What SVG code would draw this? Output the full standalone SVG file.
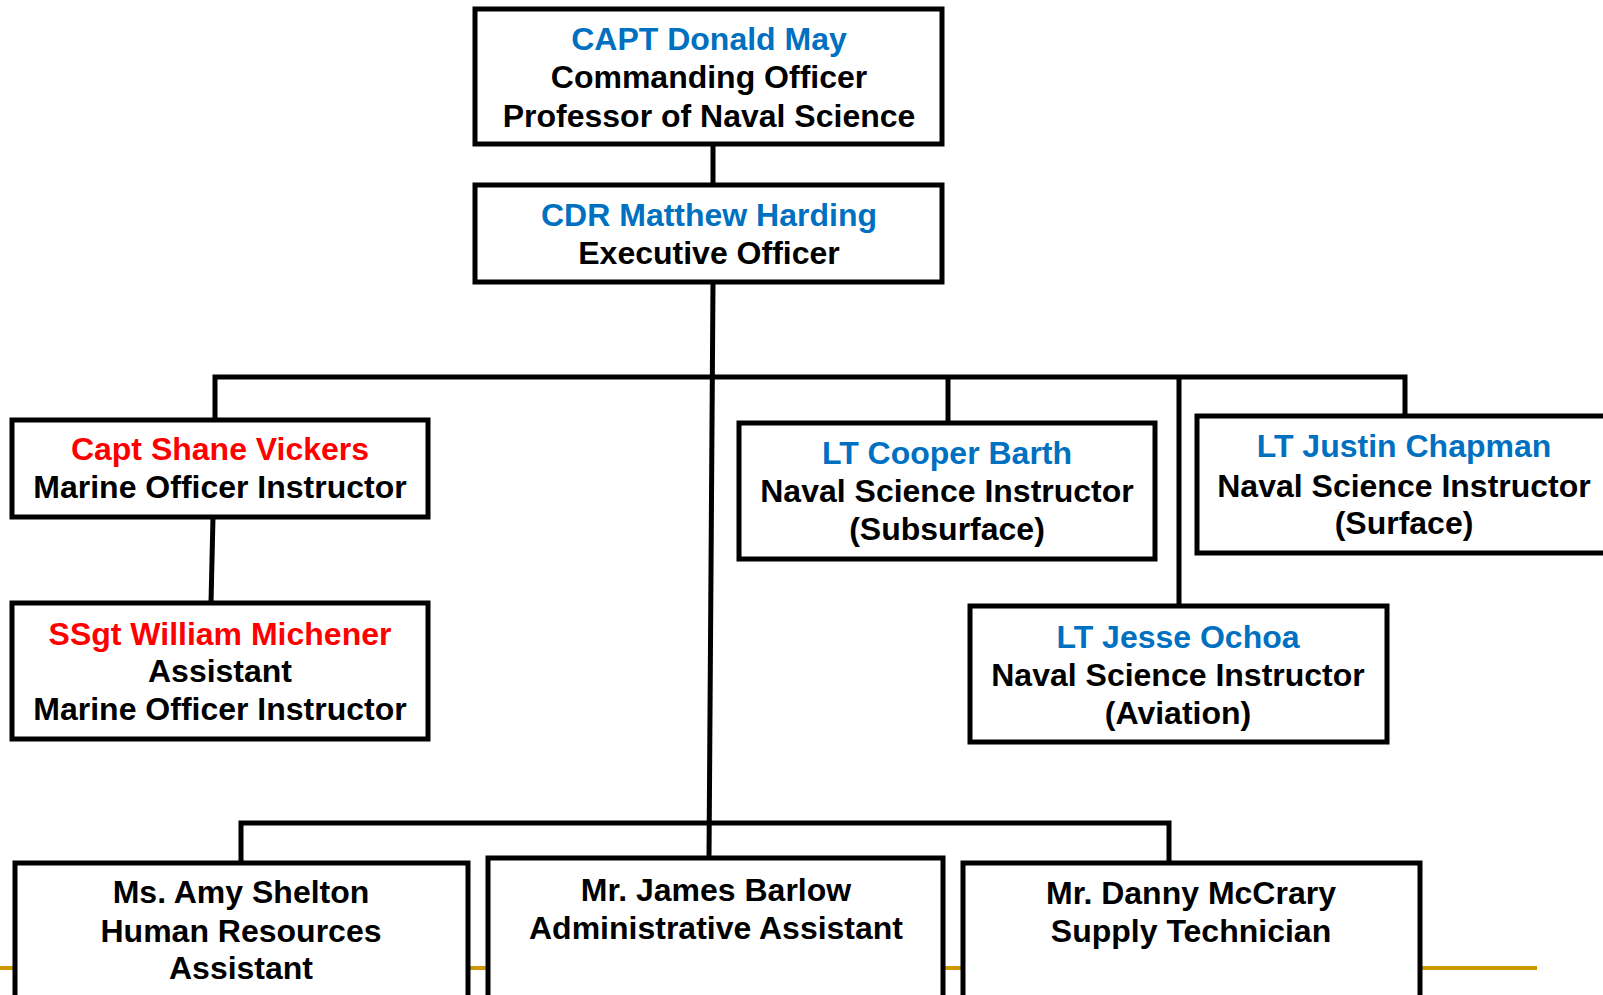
<svg xmlns="http://www.w3.org/2000/svg" width="1603" height="995" viewBox="0 0 1603 995">
<style>
.box{fill:#fff;stroke:#000;stroke-width:5}
.con{fill:none;stroke:#000;stroke-width:5}
text{font-family:"Liberation Sans",Arial,sans-serif;font-weight:bold;font-size:32px;text-anchor:middle;fill:#000}
.b{fill:#0070C0}
.r{fill:#FF0000}
</style>
<rect width="1603" height="995" fill="#fff"/>
<line x1="0" y1="968" x2="1537" y2="968" stroke="#CC9900" stroke-width="4"/>
<g id="connectors">
<line class="con" x1="713" y1="144" x2="713" y2="185"/>
<polyline class="con" points="713,282 709,858"/>
<polyline class="con" points="215,420 215,377 1405,377 1405,416"/>
<line class="con" x1="948" y1="377" x2="948" y2="423"/>
<line class="con" x1="1179" y1="377" x2="1179" y2="606"/>
<line class="con" x1="213" y1="517" x2="211" y2="603"/>
<polyline class="con" points="241,863 241,823 1169,823 1169,863"/>
</g>
<g id="n-may">
<rect class="box" x="475" y="9" width="467" height="135"/>
<text x="709" y="50" class="b">CAPT Donald May</text>
<text x="709" y="88">Commanding Officer</text>
<text x="709" y="127">Professor of Naval Science</text>
</g>
<g id="n-harding">
<rect class="box" x="475" y="185" width="467" height="97"/>
<text x="709" y="226" class="b">CDR Matthew Harding</text>
<text x="709" y="264">Executive Officer</text>
</g>
<g id="n-vickers">
<rect class="box" x="12" y="420" width="416" height="97"/>
<text x="220" y="460" class="r">Capt Shane Vickers</text>
<text x="220" y="498">Marine Officer Instructor</text>
</g>
<g id="n-michener">
<rect class="box" x="12" y="603" width="416" height="136"/>
<text x="220" y="645" class="r">SSgt William Michener</text>
<text x="220" y="682">Assistant</text>
<text x="220" y="720">Marine Officer Instructor</text>
</g>
<g id="n-barth">
<rect class="box" x="739" y="423" width="416" height="136"/>
<text x="947" y="464" class="b">LT Cooper Barth</text>
<text x="947" y="502">Naval Science Instructor</text>
<text x="947" y="540">(Subsurface)</text>
</g>
<g id="n-chapman">
<rect class="box" x="1197" y="416" width="420" height="137"/>
<text x="1404" y="457" class="b">LT Justin Chapman</text>
<text x="1404" y="497">Naval Science Instructor</text>
<text x="1404" y="534">(Surface)</text>
</g>
<g id="n-ochoa">
<rect class="box" x="970" y="606" width="417" height="136"/>
<text x="1178" y="648" class="b">LT Jesse Ochoa</text>
<text x="1178" y="686">Naval Science Instructor</text>
<text x="1178" y="724">(Aviation)</text>
</g>
<g id="n-shelton">
<rect class="box" x="15" y="863" width="453" height="145"/>
<text x="241" y="903">Ms. Amy Shelton</text>
<text x="241" y="942">Human Resources</text>
<text x="241" y="979">Assistant</text>
</g>
<g id="n-barlow">
<rect class="box" x="488" y="858" width="455" height="150"/>
<text x="716" y="901">Mr. James Barlow</text>
<text x="716" y="939">Administrative Assistant</text>
</g>
<g id="n-mccrary">
<rect class="box" x="963" y="863" width="457" height="145"/>
<text x="1191" y="904">Mr. Danny McCrary</text>
<text x="1191" y="942">Supply Technician</text>
</g>
</svg>
